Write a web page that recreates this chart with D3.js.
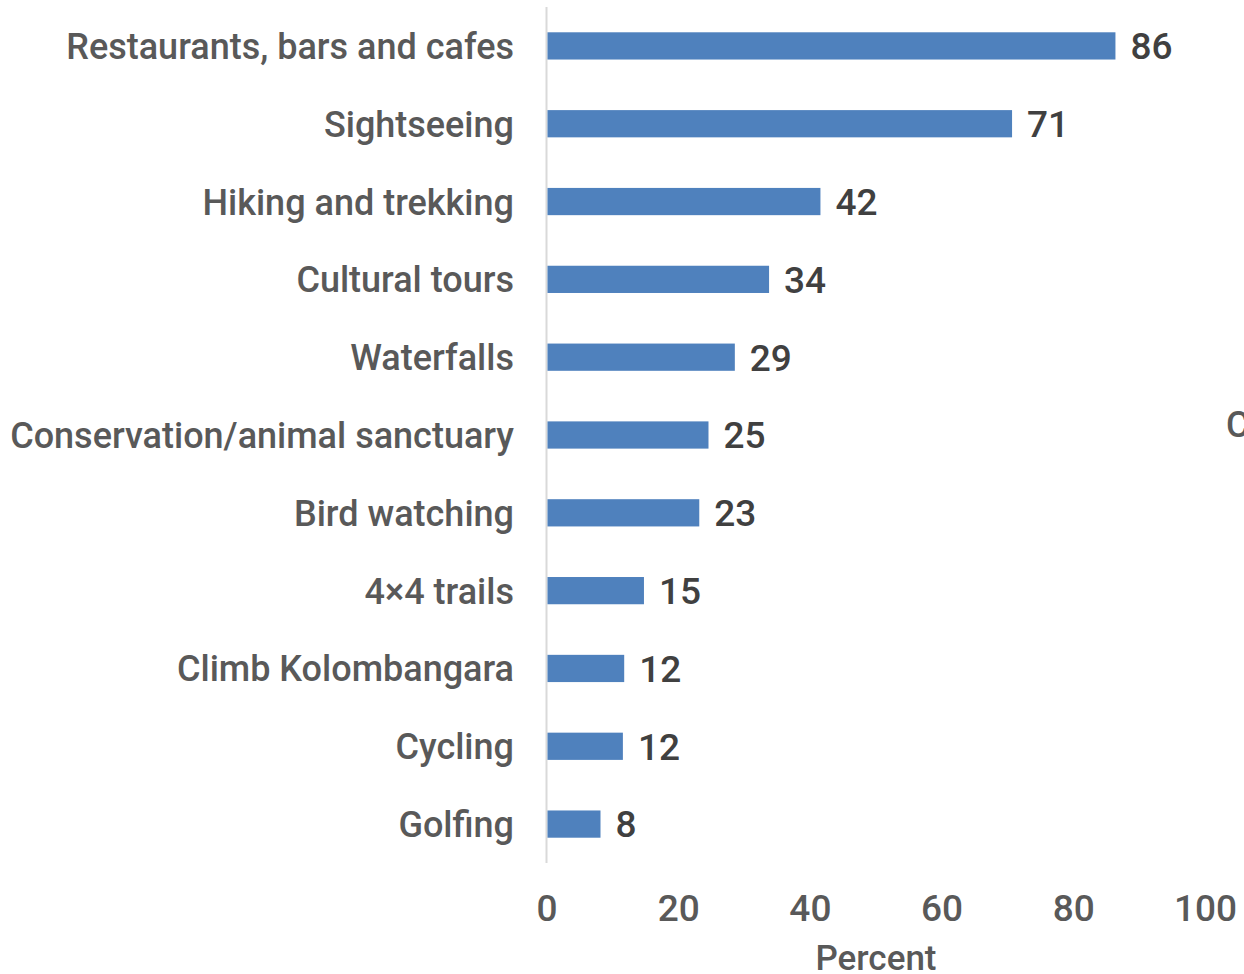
<!DOCTYPE html>
<html>
<head>
<meta charset="utf-8">
<script src="https://cdn.jsdelivr.net/npm/d3@7"></script>
<style>
  body { margin: 0; background: #fff; }
  svg text { font-family: Roboto, "Liberation Sans", sans-serif; font-weight: 500; }
</style>
</head>
<body>
<div id="chart"></div>
<script>
const categories = [
  "Restaurants, bars and cafes", "Sightseeing", "Hiking and trekking",
  "Cultural tours", "Waterfalls", "Conservation/animal sanctuary",
  "Bird watching", "4×4 trails", "Climb Kolombangara", "Cycling", "Golfing"
];
// bar lengths; labels show them rounded
const values = [86.4, 70.7, 41.6, 33.8, 28.6, 24.6, 23.2, 14.8, 11.8, 11.6, 8.2];
const xTicks = [0, 20, 40, 60, 80, 100];

const W = 1244, H = 974;
const svg = d3.select("#chart")
  .append("svg")
  .attr("width", W)
  .attr("height", H);

const x = d3.scaleLinear()
  .domain([0, 100])
  .range([546.5, 1205]);

const y = d3.scaleBand()
  .domain(categories)
  .range([7, 863])
  .paddingInner(0.65)
  .paddingOuter(0.325);

// vertical axis line
svg.append("line")
  .attr("x1", x(0)).attr("x2", x(0))
  .attr("y1", 7).attr("y2", 863)
  .attr("stroke", "#d9d9d9")
  .attr("stroke-width", 2);

// bars
svg.selectAll("rect.bar")
  .data(values)
  .enter()
  .append("rect")
  .attr("class", "bar")
  .attr("x", x(0) + 1)
  .attr("y", (d, i) => y(categories[i]))
  .attr("width", d => x(d) - x(0) - 1)
  .attr("height", y.bandwidth())
  .attr("fill", "#4f81bd");

// category labels
svg.selectAll("text.cat")
  .data(categories)
  .enter()
  .append("text")
  .attr("class", "cat")
  .attr("x", 514)
  .attr("y", d => y(d) + y.bandwidth() / 2)
  .attr("dy", "0.36em")
  .attr("text-anchor", "end")
  .attr("font-size", "36px")
  .attr("fill", "#595959")
  .text(d => d);

// value labels
svg.selectAll("text.val")
  .data(values)
  .enter()
  .append("text")
  .attr("class", "val")
  .attr("x", d => x(d) + 15)
  .attr("y", (d, i) => y(categories[i]) + y.bandwidth() / 2)
  .attr("dy", "0.36em")
  .attr("font-size", "37px")
  .attr("fill", "#404040")
  .text(d => d3.format(".0f")(d));

// x axis tick labels
const xAxis = d3.axisBottom(x)
  .tickValues(xTicks)
  .tickSize(0)
  .tickPadding(0);

const gx = svg.append("g")
  .attr("transform", "translate(0, 921)")
  .call(xAxis);
gx.select(".domain").remove();
gx.selectAll("text")
  .attr("dy", 0)
  .attr("font-size", "37px")
  .attr("fill", "#595959")
  .style("font-family", "Roboto, \"Liberation Sans\", sans-serif");

svg.append("text")
  .attr("x", 876)
  .attr("y", 970)
  .attr("text-anchor", "middle")
  .attr("font-size", "35px")
  .attr("fill", "#595959")
  .text("Percent");

// clipped text at the right edge
svg.append("text")
  .attr("x", 1226)
  .attr("y", 437)
  .attr("font-size", "36px")
  .attr("fill", "#595959")
  .text("C");
</script>
</body>
</html>
